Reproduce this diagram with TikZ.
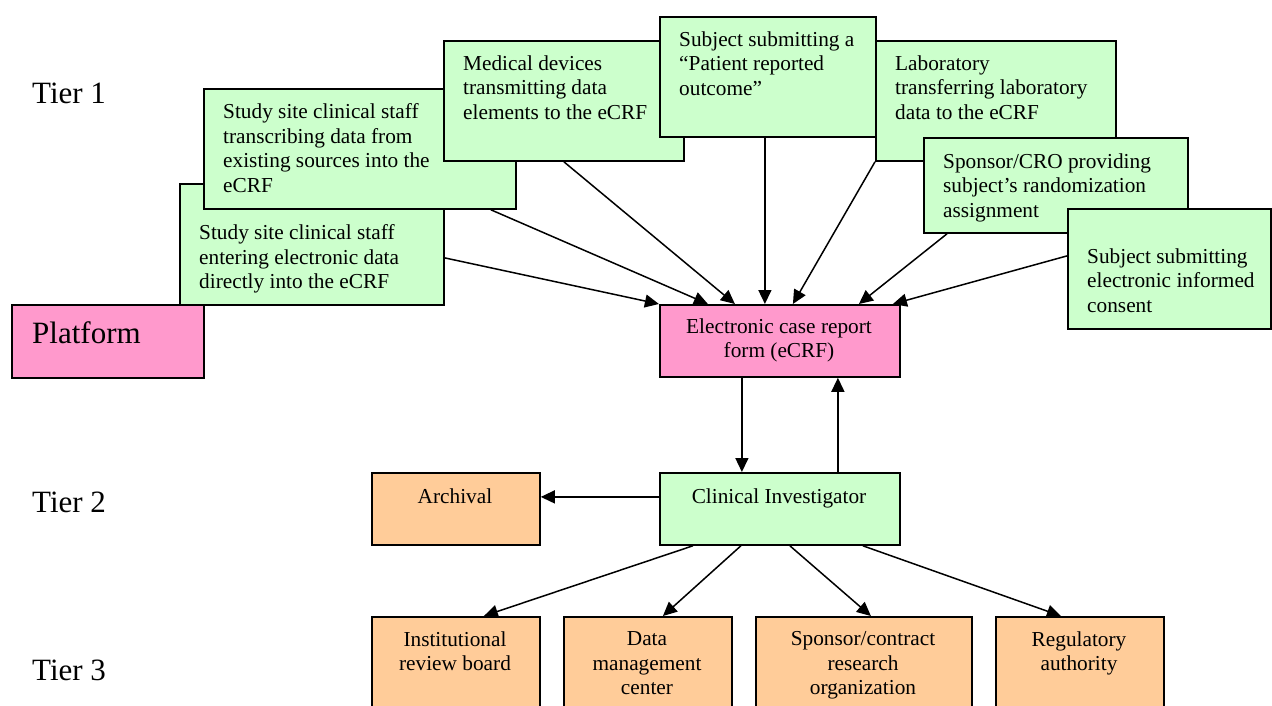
\documentclass[tikz,border=0pt]{standalone}
\usepackage{fontspec}
\setmainfont{Liberation Serif}
\usetikzlibrary{arrows.meta}
\definecolor{gfillc}{HTML}{CCFFCC}
\definecolor{pfillc}{HTML}{FF99CC}
\definecolor{ofillc}{HTML}{FFCC99}
\tikzset{
  bx/.style={draw, line width=1.8pt, inner sep=0pt, anchor=north west},
  gbox/.style={bx, fill=gfillc},
  pbox/.style={bx, fill=pfillc},
  obox/.style={bx, fill=ofillc},
  txt/.style={inner sep=0pt, font=\fontsize{21.3}{24.5}\selectfont},
  ltxt/.style={txt, align=left, anchor=north west},
  ctxt/.style={txt, align=center, anchor=north},
  big/.style={inner sep=0pt, font=\fontsize{31}{36}\selectfont, anchor=base west},
  arr/.style={line width=1.5pt, -{Triangle[length=14pt,width=13pt]}}
}
\begin{document}
\begin{tikzpicture}[x=1pt,y=-1pt]
\useasboundingbox (0,0) rectangle (1272,706);
\clip (0,0) rectangle (1272,706);
\fill[white] (0,0) rectangle (1272,706);

% Tier labels
\node[big] (tier1) at (32,104) {Tier 1};
\node[big] (tier2) at (32,512) {Tier 2};
\node[big] (tier3) at (32,680) {Tier 3};

% Platform
\node[pbox, minimum width=192pt, minimum height=73pt] (plat) at (11,304) {};
\node[big] (platt) at (32,343) {Platform};

% Tier 1 sources
\node[gbox, minimum width=264pt, minimum height=121pt] (b1) at (179,183) {};
\node[ltxt] (b1t) at (199,224.5) {Study site clinical staff\\entering electronic data\\directly into the eCRF};

\node[gbox, minimum width=312pt, minimum height=120pt] (b2) at (203,88) {};
\node[ltxt] (b2t) at (223,103.5) {Study site clinical staff\\transcribing data from\\existing sources into the\\eCRF};

\node[gbox, minimum width=240pt, minimum height=120pt] (b3) at (443,40) {};
\node[ltxt] (b3t) at (463,55.5) {Medical devices\\transmitting data\\elements to the eCRF};

\node[gbox, minimum width=216pt, minimum height=120pt] (b4) at (659,16) {};
\node[ltxt] (b4t) at (679,31.5) {Subject submitting a\\``Patient reported\\outcome''};

\node[gbox, minimum width=240pt, minimum height=120pt] (b5) at (875,40) {};
\node[ltxt] (b5t) at (895,55.5) {Laboratory\\transferring laboratory\\data to the eCRF};

\node[gbox, minimum width=264pt, minimum height=95pt] (b6) at (923,137) {};
\node[ltxt] (b6t) at (943,153.5) {Sponsor/CRO providing\\subject’s randomization\\assignment};

\node[gbox, minimum width=203pt, minimum height=120pt] (b7) at (1067,208) {};
\node[ltxt] (b7t) at (1087,248.5) {Subject submitting\\electronic informed\\consent};

% eCRF and tier 2
\node[pbox, minimum width=240pt, minimum height=72pt] (ecrf) at (659,304) {};
\node[ctxt] (ecrft) at (779,318.5) {Electronic case report\\form (eCRF)};

\node[gbox, minimum width=240pt, minimum height=72pt] (ci) at (659,472) {};
\node[ctxt] (cit) at (779,488.5) {Clinical Investigator};

\node[obox, minimum width=168pt, minimum height=72pt] (arch) at (371,472) {};
\node[ctxt] (archt) at (455,488.5) {Archival};

% Tier 3
\node[obox, minimum width=168pt, minimum height=110pt] (irb) at (371,616) {};
\node[ctxt] (irbt) at (455,631.5) {Institutional\\review board};
\node[obox, minimum width=168pt, minimum height=110pt] (dmc) at (563,616) {};
\node[ctxt] (dmct) at (647,631.5) {Data\\management\\center};
\node[obox, minimum width=216pt, minimum height=110pt] (scro) at (755,616) {};
\node[ctxt] (scrot) at (863,631.5) {Sponsor/contract\\research\\organization};
\node[obox, minimum width=168pt, minimum height=110pt] (reg) at (995,616) {};
\node[ctxt] (regt) at (1079,631.5) {Regulatory\\authority};

% connectors into eCRF
\draw[arr] ([yshift=-13.5pt]b1.east) -- ([xshift=-121pt]ecrf.north);
\draw[arr] ([xshift=131pt]b2.south) -- ([xshift=-72pt]ecrf.north);
\draw[arr] (b3.south) -- ([xshift=-45pt]ecrf.north);
\draw[arr] ([xshift=-3pt]b4.south) -- ([xshift=-15pt]ecrf.north);
\draw[arr] (b5.south west) -- ([xshift=13pt]ecrf.north);
\draw[arr] ([xshift=24pt]b6.south west) -- ([xshift=79pt]ecrf.north);
\draw[arr] ([yshift=13pt]b7.west) -- ([xshift=113pt]ecrf.north);

% eCRF <-> CI
\draw[arr] ([xshift=-38pt]ecrf.south) -- ([xshift=-38pt]ci.north);
\draw[arr] ([xshift=58pt]ci.north) -- ([xshift=58pt]ecrf.south);

% CI outputs
\draw[arr] ([yshift=12pt]ci.west) -- ([yshift=12pt]arch.east);
\draw[arr] ([xshift=-87pt]ci.south) -- ([xshift=28pt]irb.north);
\draw[arr] ([xshift=-39pt]ci.south) -- ([xshift=15pt]dmc.north);
\draw[arr] ([xshift=10pt]ci.south) -- ([xshift=7pt]scro.north);
\draw[arr] ([xshift=83pt]ci.south) -- ([xshift=-19pt]reg.north);
\end{tikzpicture}
\end{document}
